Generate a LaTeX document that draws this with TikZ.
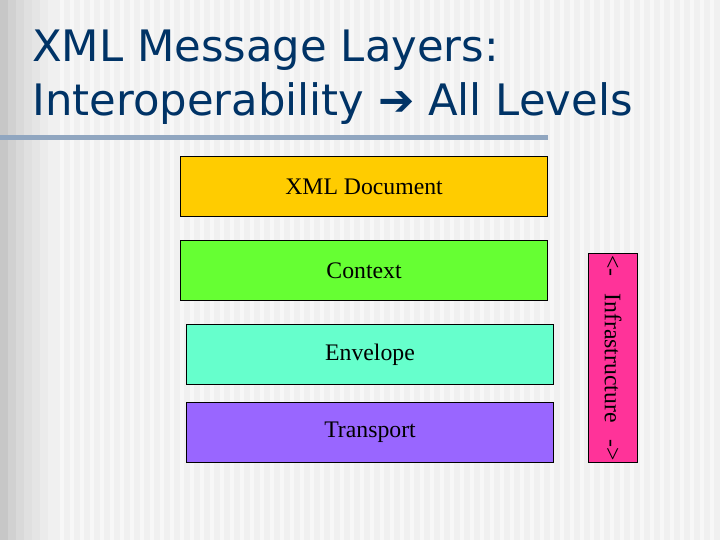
\documentclass[tikz,border=0pt]{standalone}
\usepackage{fontspec}
\setmainfont{Liberation Serif}
\newfontfamily\titlefont{DejaVu Sans}
\definecolor{titleblue}{RGB}{0,51,102}
\definecolor{rulecol}{RGB}{144,166,192}
\begin{document}
\begin{tikzpicture}[x=0.75pt,y=-0.75pt,
  layer/.style={draw=black,line width=0.8pt,anchor=north west,inner sep=0pt,font=\fontsize{17.8}{19}\selectfont}]
\useasboundingbox (0,0) rectangle (720,540);
\fill[black!6] (0,0) rectangle (720,540);
\foreach \x/\c in {0/22,8/18,16/15,24/12,32/10,40/8,48/6}
  \fill[black!\c] (\x,0) rectangle (\x+8,540);
\foreach \x in {60,70,...,710} \fill[black!3] (\x,0) rectangle (\x+4,540);
\node[anchor=north west,text=titleblue,font=\titlefont\fontsize{32.5}{40}\selectfont,align=left,inner sep=0pt] (title) at (32,30)
  {XML Message Layers:\\Interoperability {\bfseries ➔} All Levels};
\fill[rulecol] (0,135) rectangle (548,140);
\node[layer,fill={rgb,255:red,255;green,204;blue,0},minimum width=367*0.75pt,minimum height=60*0.75pt] (doc) at (180,156) {XML Document};
\node[layer,fill={rgb,255:red,102;green,255;blue,51},minimum width=367*0.75pt,minimum height=60*0.75pt] (ctx) at (180,240) {Context};
\node[layer,fill={rgb,255:red,102;green,255;blue,204},minimum width=367*0.75pt,minimum height=60*0.75pt] (env) at (186,324) {Envelope};
\node[layer,fill={rgb,255:red,153;green,102;blue,255},minimum width=367*0.75pt,minimum height=60*0.75pt] (tr) at (186,402) {Transport};
\node[draw=black,line width=0.8pt,fill={rgb,255:red,255;green,51;blue,153},anchor=north west,inner sep=0pt,minimum width=49*0.75pt,minimum height=209*0.75pt] (inf) at (588,253) {};
\node[rotate=-90,font=\fontsize{17.8}{19}\selectfont] at (inf.center) {<-\hspace{0.7em}Infrastructure\hspace{0.7em}->};
\end{tikzpicture}
\end{document}
